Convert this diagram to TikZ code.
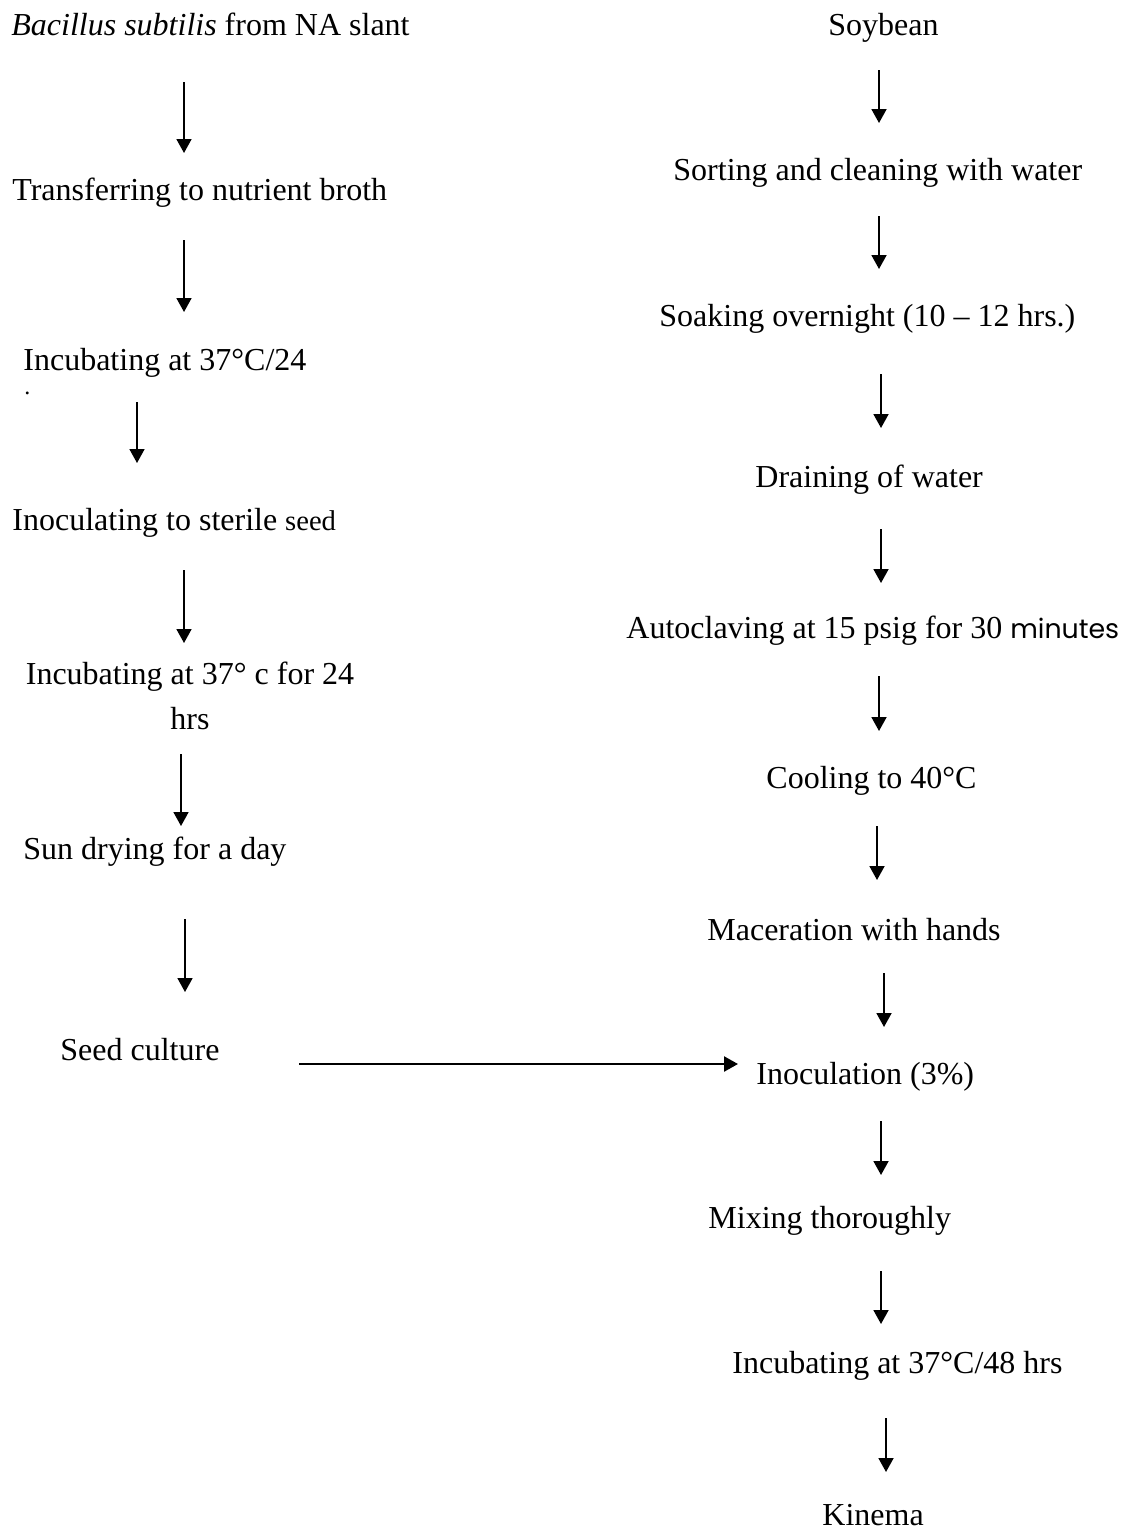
\documentclass[tikz,border=0pt]{standalone}
\usepackage{fontspec}
\setmainfont{Liberation Serif}
\newfontfamily\gothicfont{Poppins}
\usepackage{tikz}
\usetikzlibrary{arrows.meta}

\begin{document}
\begin{tikzpicture}[
  x=0.5pt, y=-0.5pt,
  lbl/.style={
    anchor=mid west, inner sep=0,
    font=\fontsize{16}{22.5}\selectfont
  },
  arr/.style={-{Triangle[width=7.5pt,length=7pt]}, line width=0.9pt},
]
\useasboundingbox (0,0) rectangle (1126,1531);
% Left column
\node[lbl] (L1) at (11,31)  {\textit{Bacillus subtilis} from NA slant};
\node[lbl] (L2) at (12,196) {Transferring to nutrient broth};
\node[lbl] (L3) at (23,366) {Incubating at 37°C/24};
\node[lbl,anchor=base west,font=\fontsize{12}{14}\selectfont] (L3d) at (24,394) {.};
\node[lbl] (L4) at (12,526) {Inoculating to sterile {\fontsize{14.3}{17}\selectfont seed}};
\node[lbl,anchor=north,align=center] (L5) at (190,662) {Incubating at 37° c for 24\\hrs};
\node[lbl] (L6) at (23,855)  {Sun drying for a day};
\node[lbl] (L7) at (60,1056) {Seed culture};
% Right column
\node[lbl] (R1)  at (828,31)   {Soybean};
\node[lbl] (R2)  at (673,176)  {Sorting and cleaning with water};
\node[lbl] (R3)  at (659,322)  {Soaking overnight (10 – 12 hrs.)};
\node[lbl] (R4)  at (755,483)  {Draining of water};
\node[lbl] (R5)  at (626,634)  {Autoclaving at 15 psig for 30 {\gothicfont\fontsize{13.4}{17}\selectfont minutes}};
\node[lbl] (R6)  at (766,784)  {Cooling to 40°C};
\node[lbl] (R7)  at (707,936)  {Maceration with hands};
\node[lbl] (R8)  at (756,1080) {Inoculation (3\%)};
\node[lbl] (R9)  at (708,1224) {Mixing thoroughly};
\node[lbl] (R10) at (732,1369) {Incubating at 37°C/48 hrs};
\node[lbl] (R11) at (822,1521) {Kinema};
% Arrow ends, left
\coordinate (la1) at (184,82);  \coordinate (lb1) at (184,153);
\coordinate (la2) at (184,240); \coordinate (lb2) at (184,312);
\coordinate (la3) at (137,402); \coordinate (lb3) at (137,463);
\coordinate (la4) at (184,570); \coordinate (lb4) at (184,643);
\coordinate (la5) at (181,754); \coordinate (lb5) at (181,826);
\coordinate (la6) at (185,919); \coordinate (lb6) at (185,992);
% Arrow ends, right
\coordinate (ra1) at (879,70);    \coordinate (rb1) at (879,123);
\coordinate (ra2) at (879,216);   \coordinate (rb2) at (879,269);
\coordinate (ra3) at (881,374);   \coordinate (rb3) at (881,428);
\coordinate (ra4) at (881,529);   \coordinate (rb4) at (881,583);
\coordinate (ra5) at (879,676);   \coordinate (rb5) at (879,731);
\coordinate (ra6) at (877,826);   \coordinate (rb6) at (877,880);
\coordinate (ra7) at (884,973);   \coordinate (rb7) at (884,1027);
\coordinate (ra8) at (881,1121);  \coordinate (rb8) at (881,1175);
\coordinate (ra9) at (881,1271);  \coordinate (rb9) at (881,1324);
\coordinate (ra10) at (886,1418); \coordinate (rb10) at (886,1472);
% Seed culture to inoculation
\coordinate (ha) at (299,1064); \coordinate (hb) at (738,1064);
% Arrows
\draw[arr] (la1) -- (lb1);
\draw[arr] (la2) -- (lb2);
\draw[arr] (la3) -- (lb3);
\draw[arr] (la4) -- (lb4);
\draw[arr] (la5) -- (lb5);
\draw[arr] (la6) -- (lb6);
\draw[arr] (ra1) -- (rb1);
\draw[arr] (ra2) -- (rb2);
\draw[arr] (ra3) -- (rb3);
\draw[arr] (ra4) -- (rb4);
\draw[arr] (ra5) -- (rb5);
\draw[arr] (ra6) -- (rb6);
\draw[arr] (ra7) -- (rb7);
\draw[arr] (ra8) -- (rb8);
\draw[arr] (ra9) -- (rb9);
\draw[arr] (ra10) -- (rb10);
\draw[arr,line width=1.2pt] (ha) -- (hb);
\end{tikzpicture}
\end{document}
